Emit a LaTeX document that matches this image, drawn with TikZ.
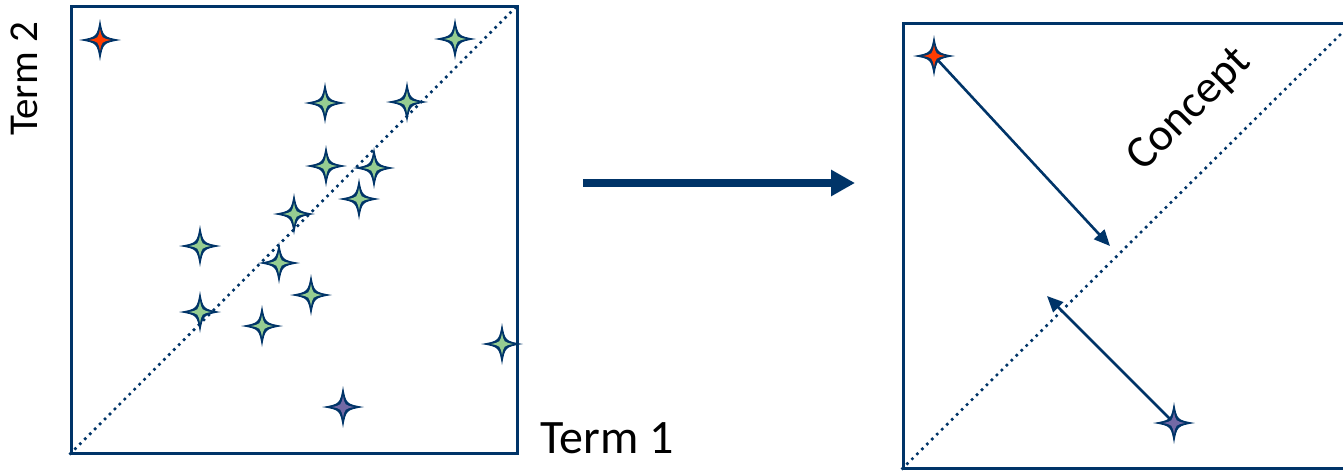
\documentclass[tikz,border=0pt]{standalone}
\usepackage{fontspec}
\setmainfont{Carlito}
\usetikzlibrary{arrows.meta}
\definecolor{navy}{RGB}{0,52,104}
\definecolor{leaf}{RGB}{150,205,145}
\definecolor{flare}{RGB}{255,60,0}
\definecolor{dusk}{RGB}{115,105,165}

\tikzset{
  frame/.style={draw=navy,line width=3pt,inner sep=0pt},
  dotline/.style={navy,line width=2.6pt,dash pattern=on 2.6pt off 4.4pt},
  pointer/.style={navy,line width=2.6pt,-{Triangle[length=16pt,width=14pt]}},
  bigarrow/.style={navy,line width=8pt,-{Triangle[length=24pt,width=25pt]}},
  % four-pointed sparkle: navy body, coloured core
  pics/spark/.style={code={
    \fill[navy] (21,0) .. controls (3,3) .. (0,21) .. controls (-3,3) .. (-21,0)
      .. controls (-3,-3) .. (0,-21) .. controls (3,-3) .. (21,0) -- cycle;
    \fill[#1] (11,0) .. controls (1.8,1.8) .. (0,11) .. controls (-1.8,1.8) .. (-11,0)
      .. controls (-1.8,-1.8) .. (0,-11) .. controls (1.8,-1.8) .. (11,0) -- cycle;
  }}
}

\begin{document}
\begin{tikzpicture}[x=1pt,y=-1pt]
\useasboundingbox (0,0) rectangle (1343,471);
\clip (0,0) rectangle (1343,471);

% ================= LEFT: term space =================
\node[frame,minimum width=446,minimum height=447] (plotL) at (294,229.5) {};
\draw[dotline] (plotL.south west) -- (plotL.north east);
\node[anchor=base west,inner sep=0pt,font=\fontsize{48}{56}\selectfont] (term1) at (540,453) {Term 1};
\node[anchor=base west,inner sep=0pt,rotate=90,font=\fontsize{41}{48}\selectfont] (term2) at (37,136) {Term 2};

\foreach \n/\x/\y in {1/455/39, 2/325/103, 3/407/102, 4/326/166, 5/374/168,
    6/359/199, 7/294/214, 8/200/246, 9/279/263, 10/311/295, 11/200/312,
    12/262/326, 13/502/344} {
  \coordinate (s\n) at (\x,\y);
  \pic at (s\n) {spark=leaf};
}
\coordinate (odd) at (100,40);
\pic at (odd) {spark=flare};
\coordinate (low) at (343,407);
\pic at (low) {spark=dusk};

% ================= middle arrow =================
\coordinate (go) at (583,183);
\coordinate (land) at (855,183);
\draw[bigarrow] (go) -- (land);

% ================= RIGHT: concept axis =================
\node[frame,minimum width=449,minimum height=445] (plotR) at (1127.5,245.5) {};
\draw[dotline] (plotR.south west) -- (plotR.north east);
\node[rotate=45,inner sep=0pt,font=\fontsize{46}{54}\selectfont] (concept) at (1190,110) {Concept};

\coordinate (oddR) at (934,56);
\coordinate (lowR) at (1174,423);
\coordinate (hit1) at (1110,246);
\coordinate (hit2) at (1047,296);
\draw[pointer] (oddR) -- (hit1);
\draw[pointer] (lowR) -- (hit2);
\pic at (oddR) {spark=flare};
\pic at (lowR) {spark=dusk};
\end{tikzpicture}
\end{document}
